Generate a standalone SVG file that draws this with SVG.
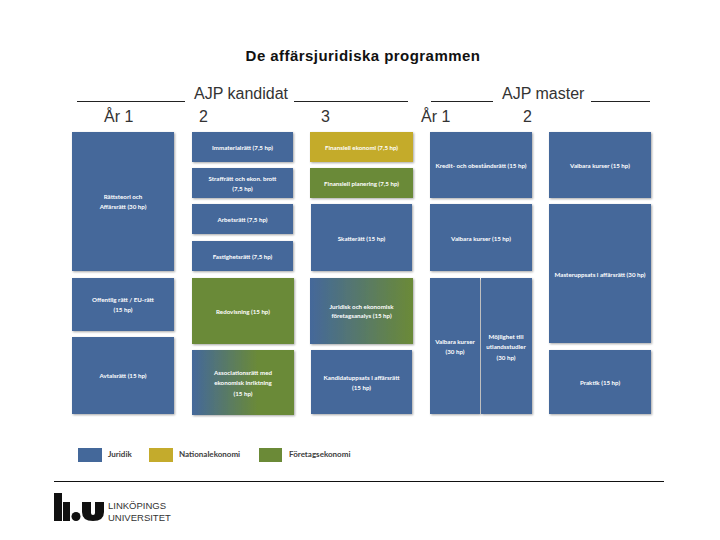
<svg xmlns="http://www.w3.org/2000/svg" width="720" height="540" viewBox="0 0 720 540">
<style>
.h{font-family:"Liberation Sans",Arial,sans-serif;font-size:16px;fill:#333}
.b{fill:#44689a;filter:url(#s)}
.g{fill:#6b8a37;filter:url(#s)}
.y{fill:#c4ab2c;filter:url(#s)}
.t{font-family:Lato,"Liberation Sans",sans-serif;font-size:6.200px;font-weight:700;fill:#fff;text-anchor:middle}
.l{font-family:Lato,"Liberation Sans",sans-serif;font-size:8px;font-weight:700;fill:#3c3c3c}
.u{stroke:#222;stroke-width:1;fill:none}
</style>
<defs>
<filter id="s" x="-5%" y="-5%" width="112%" height="115%"><feDropShadow dx="1" dy="1" stdDeviation="1" flood-color="#000" flood-opacity=".35"/></filter>
<linearGradient id="bg1"><stop offset="0" stop-color="#44689a"/><stop offset="1" stop-color="#6b8a37"/></linearGradient>
<linearGradient id="bg2"><stop offset="0" stop-color="#44689a"/><stop offset=".65" stop-color="#6b8a37"/></linearGradient>
</defs>
<rect width="720" height="540" fill="#fff"/>
<g id="header">
<text x="363" y="61" text-anchor="middle" font-family="Liberation Sans,Arial,sans-serif" font-size="15" letter-spacing=".45" font-weight="700" fill="#111">De affärsjuridiska programmen</text>
<text class="h" x="194" y="99">AJP kandidat</text>
<text class="h" x="502" y="99">AJP master</text>
<text class="h" x="104" y="122">År 1</text>
<text class="h" x="199" y="122">2</text>
<text class="h" x="321" y="122">3</text>
<text class="h" x="421" y="122">År 1</text>
<text class="h" x="523" y="122">2</text>
</g>
<g id="connectors">
<path class="u" d="M77 101.500H185M294 101.500H408M431 101.500H493M591 101.500H650"/>
</g>
<g id="n1"><rect class="b" x="72" y="132" width="102" height="139"/><text class="t" x="123" y="199">Rättsteori och</text><text class="t" x="123" y="209">Affärsrätt (30 hp)</text></g>
<g id="n2"><rect class="b" x="72" y="278" width="102" height="53"/><text class="t" x="123" y="302">Offentlig rätt / EU-rätt</text><text class="t" x="123" y="312">(15 hp)</text></g>
<g id="n3"><rect class="b" x="72" y="337" width="102" height="77"/><text class="t" x="123" y="378">Avtalsrätt (15 hp)</text></g>
<g id="n4"><rect class="b" x="192" y="132" width="101" height="30"/><text class="t" x="242.500" y="150">Immaterialrätt (7,5 hp)</text></g>
<g id="n5"><rect class="b" x="192" y="168" width="101" height="30"/><text class="t" x="242.500" y="181">Straffrätt och ekon. brott</text><text class="t" x="242.500" y="191">(7,5 hp)</text></g>
<g id="n6"><rect class="b" x="192" y="204" width="101" height="30"/><text class="t" x="242.500" y="222">Arbetsrätt (7,5 hp)</text></g>
<g id="n7"><rect class="b" x="192" y="241" width="101" height="30"/><text class="t" x="242.500" y="259">Fastighetsrätt (7,5 hp)</text></g>
<g id="n8"><rect class="g" x="192" y="278" width="102" height="66"/><text class="t" x="243" y="314">Redovisning (15 hp)</text></g>
<g id="n9"><rect x="192" y="350" width="102" height="65" fill="url(#bg2)" filter="url(#s)"/><text class="t" x="243" y="375">Associationsrätt med</text><text class="t" x="243" y="385">ekonomisk inriktning</text><text class="t" x="243" y="396">(15 hp)</text></g>
<g id="n10"><rect class="y" x="310" y="132" width="103" height="30"/><text class="t" x="361.500" y="150">Finansiell ekonomi (7,5 hp)</text></g>
<g id="n11"><rect class="g" x="310" y="168" width="103" height="30"/><text class="t" x="361.500" y="186">Finansiell planering (7,5 hp)</text></g>
<g id="n12"><rect class="b" x="311" y="204" width="101" height="67"/><text class="t" x="361.500" y="241">Skatterätt (15 hp)</text></g>
<g id="n13"><rect x="310" y="278" width="103" height="66" fill="url(#bg1)" filter="url(#s)"/><text class="t" x="361.500" y="309">Juridisk och ekonomisk</text><text class="t" x="361.500" y="318">företagsanalys (15 hp)</text></g>
<g id="n14"><rect class="b" x="311" y="350" width="101" height="64"/><text class="t" x="361.500" y="380">Kandidatuppsats i affärsrätt</text><text class="t" x="361.500" y="390">(15 hp)</text></g>
<g id="n15"><rect class="b" x="430" y="132" width="102" height="66"/><text class="t" x="481" y="168">Kredit- och obeståndsrätt (15 hp)</text></g>
<g id="n16"><rect class="b" x="430" y="204" width="102" height="67"/><text class="t" x="481" y="241">Valbara kurser (15 hp)</text></g>
<g id="n17"><rect class="b" x="430" y="278" width="50" height="136"/><text class="t" x="455" y="344">Valbara kurser</text><text class="t" x="455" y="354">(30 hp)</text></g>
<g id="n18"><rect class="b" x="481" y="278" width="51" height="136"/><text class="t" x="506" y="339">Möjlighet till</text><text class="t" x="506" y="349">utlandsstudier</text><text class="t" x="506" y="360">(30 hp)</text></g>
<g id="n19"><rect class="b" x="549" y="132" width="102" height="66"/><text class="t" x="600" y="168">Valbara kurser (15 hp)</text></g>
<g id="n20"><rect class="b" x="549" y="204" width="102" height="139"/><text class="t" x="600" y="277">Masteruppsats i affärsrätt (30 hp)</text></g>
<g id="n21"><rect class="b" x="549" y="350" width="102" height="64"/><text class="t" x="600" y="385">Praktik (15 hp)</text></g>
<g id="legend">
<rect x="78" y="448" width="24" height="14" fill="#44689a"/><text class="l" x="108" y="457">Juridik</text>
<rect x="149" y="448" width="24" height="14" fill="#c4ab2c"/><text class="l" x="179" y="457">Nationalekonomi</text>
<rect x="259" y="448" width="23" height="14" fill="#6b8a37"/><text class="l" x="289" y="457">Företagsekonomi</text>
</g>
<g id="footer">
<path d="M54 481.500H664" stroke="#111" stroke-width="1" fill="none"/>
<rect x="54" y="493" width="8" height="28" fill="#111"/>
<rect x="63" y="502" width="7" height="19" fill="#111"/>
<circle cx="76" cy="516.500" r="4.500" fill="#111"/>
<path d="M82 502H91V513a2 2 0 0 0 4 0V502H104V512Q104 521 93 521Q82 521 82 512Z" fill="#111"/>
<text x="108" y="509" font-family="Liberation Sans,Arial,sans-serif" font-size="9.500" fill="#333">LINKÖPINGS</text>
<text x="108" y="520.500" font-family="Liberation Sans,Arial,sans-serif" font-size="9.500" fill="#333">UNIVERSITET</text>
</g>
</svg>
